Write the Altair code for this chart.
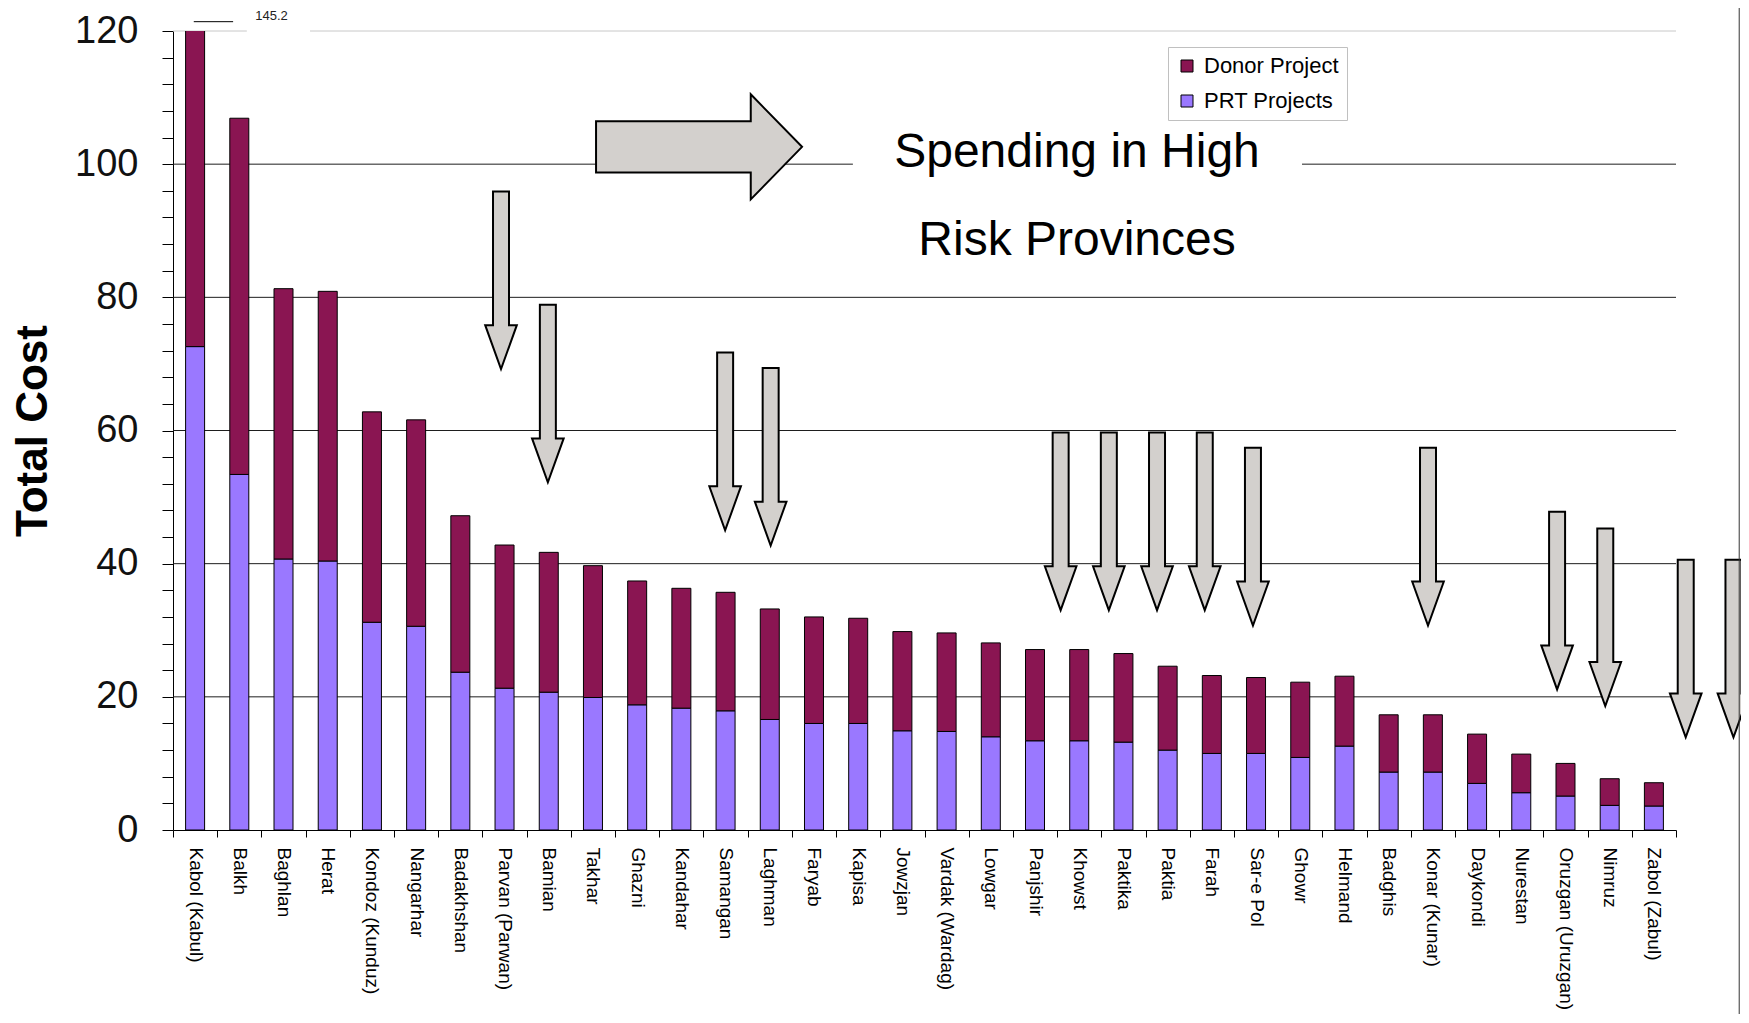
import altair as alt
import pandas as pd

# ---------------- data ----------------
provinces = [
    "Kabol (Kabul)", "Balkh", "Baghlan", "Herat", "Kondoz (Kunduz)", "Nangarhar",
    "Badakhshan", "Parvan (Parwan)", "Bamian", "Takhar", "Ghazni", "Kandahar",
    "Samangan", "Laghman", "Faryab", "Kapisa", "Jowzjan", "Vardak (Wardag)",
    "Lowgar", "Panjshir", "Khowst", "Paktika", "Paktia", "Farah", "Sar-e Pol",
    "Ghowr", "Helmand", "Badghis", "Konar (Kunar)", "Daykondi", "Nurestan",
    "Oruzgan (Uruzgan)", "Nimruz", "Zabol (Zabul)",
]
prt_projects = [
    72.6, 53.4, 40.7, 40.4, 31.2, 30.6, 23.7, 21.3, 20.7, 19.9, 18.8, 18.3,
    17.9, 16.6, 16.0, 16.0, 14.9, 14.8, 14.0, 13.4, 13.4, 13.2, 12.0, 11.5,
    11.5, 10.9, 12.6, 8.7, 8.7, 7.0, 5.6, 5.1, 3.7, 3.6,
]
donor_project = [
    72.6, 53.5, 40.6, 40.5, 31.6, 31.0, 23.5, 21.5, 21.0, 19.8, 18.6, 18.0,
    17.8, 16.6, 16.0, 15.8, 14.9, 14.8, 14.1, 13.7, 13.7, 13.3, 12.6, 11.7,
    11.4, 11.3, 10.5, 8.6, 8.6, 7.4, 5.8, 4.9, 4.0, 3.5,
]
series_names = ["Donor Project", "PRT Projects"]
series_colors = ["#8A1552", "#9A78FF"]

y_ticks = list(range(0, 121, 4))
grid_values = [20, 40, 60, 80, 100]
top_grid = [120]

# annotation arrows: x in bar-index units, y = top of arrow in "Total Cost" units
down_arrow_x = [6.92, 7.98, 11.99, 13.02, 19.58, 20.67, 21.76, 22.84, 23.93,
                27.89, 30.81, 31.90, 33.72, 34.80]
down_arrow_top = [95.9, 78.9, 71.7, 69.4, 59.7, 59.7, 59.7, 59.7, 57.4,
                  57.4, 47.8, 45.3, 40.6, 40.6]
right_arrow_x = [9.07]
right_arrow_y = [102.6]

headline_text = ["Spending in High", "Risk Provinces"]
headline_x = [19.95, 19.95]
headline_y = [99.5, 86.3]

kabol_label = ["145.2"]
kabol_label_x = [1.73]
kabol_label_y = [122.3]
kabol_mark_x = [-0.03]
kabol_mark_x2 = [0.86]
kabol_mark_y = [121.4]

# white masks that interrupt gridlines behind the annotations
mask_x = [14.88, 1.17]
mask_x2 = [25.04, 2.60]
mask_y = [96.0, 119.0]
mask_y2 = [110.0, 121.0]

border_x = [34.93]
border_y = [-30.0]
border_y2 = [125.0]

# ---------------- tables ----------------
rows = []
for p, prt, don in zip(provinces, prt_projects, donor_project):
    rows.append({"province": p, "series": "PRT Projects", "value": prt, "order": 0})
    rows.append({"province": p, "series": "Donor Project", "value": don, "order": 1})
bars_df = pd.DataFrame(rows)

FONT = "Liberation Sans"
Y_SCALE = alt.Scale(domain=[0, 120], nice=False, zero=True)
XQ_SCALE = alt.Scale(domain=[-0.5, len(provinces) - 0.5], nice=False, zero=False)

DOWN_ARROW = "M-0.09,0 L0.09,0 L0.09,1.505 L0.178,1.505 L0,2 L-0.178,1.505 L-0.09,1.505 Z"
RIGHT_ARROW = "M0,-0.248 L1.502,-0.248 L1.502,-0.51 L2,0 L1.502,0.51 L1.502,0.248 L0,0.248 Z"
ARROW_FILL = "#D3D0CD"
GRID_COLOR = "#1e1e1e"

W, H = 1503, 799

grid = alt.Chart(pd.DataFrame({"g": grid_values})).mark_rule(
    color=GRID_COLOR, strokeWidth=1
).encode(y=alt.Y("g:Q", scale=Y_SCALE, axis=None))

grid_top = alt.Chart(pd.DataFrame({"g": top_grid})).mark_rule(
    color="#c8c8c8", strokeWidth=1
).encode(y=alt.Y("g:Q", scale=Y_SCALE, axis=None))

masks = alt.Chart(pd.DataFrame({"x": mask_x, "x2": mask_x2, "y": mask_y, "y2": mask_y2})).mark_rect(
    color="white"
).encode(
    x=alt.X("x:Q", scale=XQ_SCALE, axis=None), x2="x2:Q",
    y=alt.Y("y:Q", scale=Y_SCALE, axis=None), y2="y2:Q",
)

bars = alt.Chart(bars_df).mark_bar(
    stroke="black", strokeWidth=1, width=19, clip=True
).encode(
    x=alt.X(
        "province:N", sort=provinces,
        scale=alt.Scale(paddingInner=0, paddingOuter=0),
        axis=alt.Axis(
            title=None, labelAngle=90, labelFont=FONT, labelFontSize=19,
            labelColor="black", labelPadding=10, tickBand="extent", tickSize=7,
            tickColor="black", domainColor="black", labelLimit=400,
        ),
    ),
    y=alt.Y(
        "value:Q", stack="zero", scale=Y_SCALE,
        axis=alt.Axis(
            values=y_ticks, labelExpr="datum.value % 20 === 0 ? datum.label : ''",
            labelOverlap=False, labelFont=FONT, labelFontSize=38, labelColor="#111111",
            labelPadding=24, tickSize=11, tickColor="black", domainColor="black",
            grid=False, title="Total Cost", titleFont=FONT, titleFontSize=44,
            titleFontWeight="bold", titleColor="black", titlePadding=19,
        ),
    ),
    color=alt.Color(
        "series:N",
        scale=alt.Scale(domain=series_names, range=series_colors),
        legend=alt.Legend(
            title=None, orient="none", legendX=995, legendY=16,
            fillColor="white", strokeColor="#c0c0c0", padding=8,
            symbolType="square", symbolSize=144, symbolStrokeColor="black",
            symbolStrokeWidth=1, symbolOpacity=1, labelFont=FONT, labelFontSize=22,
            labelColor="black", rowPadding=13, labelOffset=6,
        ),
    ),
    order=alt.Order("order:Q"),
)

down_arrows = alt.Chart(pd.DataFrame({"x": down_arrow_x, "y": down_arrow_top})).mark_point(
    shape=DOWN_ARROW, size=31577, filled=True, fill=ARROW_FILL, stroke="black",
    strokeWidth=2, opacity=1,
).encode(
    x=alt.X("x:Q", scale=XQ_SCALE, axis=None),
    y=alt.Y("y:Q", scale=Y_SCALE, axis=None),
)

right_arrow = alt.Chart(pd.DataFrame({"x": right_arrow_x, "y": right_arrow_y})).mark_point(
    shape=RIGHT_ARROW, size=42436, filled=True, fill=ARROW_FILL, stroke="black",
    strokeWidth=2, opacity=1,
).encode(
    x=alt.X("x:Q", scale=XQ_SCALE, axis=None),
    y=alt.Y("y:Q", scale=Y_SCALE, axis=None),
)

headline = alt.Chart(pd.DataFrame({"t": headline_text, "x": headline_x, "y": headline_y})).mark_text(
    font=FONT, fontSize=48, color="black", align="center", baseline="alphabetic"
).encode(
    x=alt.X("x:Q", scale=XQ_SCALE, axis=None),
    y=alt.Y("y:Q", scale=Y_SCALE, axis=None),
    text="t:N",
)

kabol_text = alt.Chart(pd.DataFrame({"t": kabol_label, "x": kabol_label_x, "y": kabol_label_y})).mark_text(
    font=FONT, fontSize=13, color="#222222", align="center", baseline="middle"
).encode(
    x=alt.X("x:Q", scale=XQ_SCALE, axis=None),
    y=alt.Y("y:Q", scale=Y_SCALE, axis=None),
    text="t:N",
)

kabol_mark = alt.Chart(pd.DataFrame({"x": kabol_mark_x, "x2": kabol_mark_x2, "y": kabol_mark_y})).mark_rule(
    color="black", strokeWidth=1
).encode(
    x=alt.X("x:Q", scale=XQ_SCALE, axis=None), x2="x2:Q",
    y=alt.Y("y:Q", scale=Y_SCALE, axis=None),
)

border = alt.Chart(pd.DataFrame({"x": border_x, "y": border_y, "y2": border_y2})).mark_rule(
    color="#333333", strokeWidth=1
).encode(
    x=alt.X("x:Q", scale=XQ_SCALE, axis=None),
    y=alt.Y("y:Q", scale=Y_SCALE, axis=None), y2="y2:Q",
)

chart = alt.layer(
    grid, grid_top, masks, bars, right_arrow, down_arrows, headline,
    kabol_mark, kabol_text, border,
).resolve_scale(x="independent").resolve_axis(y="independent").properties(
    width=W, height=H,
    autosize=alt.AutoSizeParams(type="none"),
    padding={"left": 165, "top": 23, "right": 65, "bottom": 184},
    background="white",
).configure_view(stroke=None)

chart.save("out.html", embed_options={"renderer": "svg", "actions": False})
